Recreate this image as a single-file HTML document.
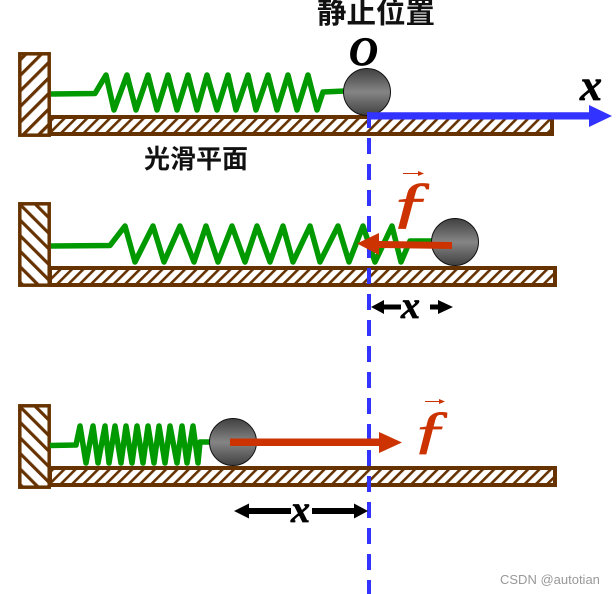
<!DOCTYPE html>
<html><head><meta charset="utf-8"><style>
html,body{margin:0;padding:0;background:#fff}
svg{display:block}
.m{font-family:"Liberation Serif",serif;font-style:italic;font-weight:bold;stroke:#000;stroke-width:.7}
.r{font-family:"Liberation Serif",serif;font-style:italic;font-weight:normal;fill:#cc3300;stroke:#cc3300;stroke-width:.8}
.c{font-family:"Liberation Sans","Noto Sans CJK SC",sans-serif;font-weight:bold;fill:#111}
</style></head><body>
<svg width="616" height="594" viewBox="0 0 616 594" xmlns="http://www.w3.org/2000/svg">
<defs>
<pattern id="h1" width="11" height="11" patternUnits="userSpaceOnUse" patternTransform="rotate(45)"><rect width="11" height="11" fill="#fff"/><rect width="3.200" height="11" fill="#663300"/></pattern>
<pattern id="h2" width="11" height="11" patternUnits="userSpaceOnUse" patternTransform="rotate(-45)"><rect width="11" height="11" fill="#fff"/><rect width="3.200" height="11" fill="#663300"/></pattern>
<pattern id="f" width="8" height="8" patternUnits="userSpaceOnUse" patternTransform="rotate(45)"><rect width="8" height="8" fill="#fff"/><rect width="2.600" height="8" fill="#663300"/></pattern>
<linearGradient id="b" x1="0" y1="0" x2="0" y2="1"><stop offset="0" stop-color="#404040"/><stop offset=".5" stop-color="#858585"/><stop offset="1" stop-color="#404040"/></linearGradient>
</defs>

<!-- floors -->
<rect x="50" y="117" width="502" height="17" fill="url(#f)" stroke="#663300" stroke-width="4"/>
<rect x="50" y="268" width="505" height="17" fill="url(#f)" stroke="#663300" stroke-width="4"/>
<rect x="50" y="468" width="505" height="17" fill="url(#f)" stroke="#663300" stroke-width="4"/>
<!-- walls -->
<rect x="19.800" y="53.800" width="29.400" height="81.400" fill="url(#h1)" stroke="#663300" stroke-width="3.500"/>
<rect x="19.800" y="203.800" width="29.400" height="81.400" fill="url(#h2)" stroke="#663300" stroke-width="3.500"/>
<rect x="19.800" y="405.800" width="29.400" height="81.400" fill="url(#h2)" stroke="#663300" stroke-width="3.500"/>

<!-- springs -->
<g fill="none" stroke="#009900" stroke-width="5.500" stroke-linejoin="round">
<path d="M51 94 L95 93.500 L106 75 L114 110 L127 75 L136 110 L148 75 L157 110 L168 75 L177 110 L188 75 L197 110 L207 75 L217 110 L228 75 L236 110 L248 75 L256 110 L268 75 L277 110 L288 75 L297 110 L308 75 L317 110 L323 92 L345 91"/>
<path d="M51 246 L110 245.500 L125 226 L135 262 L153 226 L164 262 L180 226 L194 262 L206 226 L218 262 L232 226 L245 262 L257 226 L270 262 L283 226 L293 262 L310 226 L320 262 L338 226 L349 262 L363 226 L375 262 L392 226 L401 262 L410 241 L432 241"/>
<path d="M50 445.500 L76 445 L80 426 L86 463 L93 426 L98 463 L105 426 L109 463 L115 426 L121 463 L126 426 L132 463 L137 426 L143 463 L148 426 L154 463 L159 426 L165 463 L170 426 L177 463 L182 426 L187 463 L193 426 L198 463 L200 442 L212 442"/>
</g>

<!-- balls -->
<circle cx="367" cy="92" r="23.500" fill="url(#b)" stroke="#111" stroke-width="1"/>
<circle cx="455" cy="242" r="23.500" fill="url(#b)" stroke="#111" stroke-width="1"/>
<circle cx="233" cy="442" r="23.500" fill="url(#b)" stroke="#111" stroke-width="1"/>

<!-- dashed -->
<line x1="369" y1="112" x2="369" y2="594" stroke="#3333ff" stroke-width="4" stroke-dasharray="16 10"/>

<!-- blue axis -->
<path d="M367 112.300 L589 112.300 L589 105 L612 116 L589 127 L589 119.500 L367 119.500 Z" fill="#3333ff"/>

<!-- red arrows -->
<path d="M452 242 L379 241 L379 233 L357 243.500 L379 255 L379 248 L452 249 Z" fill="#cc3300"/>
<path d="M230 438.500 L379 438.500 L379 432 L402 442.500 L379 453 L379 446 L230 446 Z" fill="#cc3300"/>

<!-- black arrows -->
<path d="M371 307 L384 300 L384 304.500 L401 304.500 L401 309.500 L384 309.500 L384 314 Z" fill="#000"/>
<path d="M453 307 L438 300 L438 304.500 L430 304.500 L430 309.500 L438 309.500 L438 314 Z" fill="#000"/>
<path d="M234 511 L249 503.500 L249 508 L291 508 L291 514 L249 514 L249 518.500 Z" fill="#000"/>
<path d="M368 511 L354 503.500 L354 508 L312 508 L312 514 L354 514 L354 518.500 Z" fill="#000"/>

<!-- small vector arrows -->
<g fill="#cc3300" stroke="#cc3300">
<line x1="403" y1="173.500" x2="420" y2="173.500" stroke-width="1"/><path d="M418 171 L424 173.500 L418 176 Z" stroke="none"/>
<line x1="425" y1="401.500" x2="441" y2="401.500" stroke-width="1"/><path d="M439 399 L445 401.500 L439 404 Z" stroke="none"/>
</g>

<!-- math labels -->
<text class="m" x="349" y="65" font-size="40">O</text>
<text class="m" x="580" y="100" font-size="44">x</text>
<text class="m" x="401" y="318" font-size="38">x</text>
<text class="m" x="291" y="522" font-size="38">x</text>
<text class="r" transform="translate(390 221) scale(1.5 1)" font-size="56">ƒ</text>
<text class="r" transform="translate(412 447) scale(1.45 1)" font-size="52">ƒ</text>

<!-- CJK labels -->
<text class="c" x="317" y="23" font-size="29.500">静止位置</text>
<text class="c" x="144" y="168" font-size="26">光滑平面</text>

<text x="500" y="584" font-family="Liberation Sans, sans-serif" font-size="13" fill="#999">CSDN @autotian</text>
</svg>
</body></html>
